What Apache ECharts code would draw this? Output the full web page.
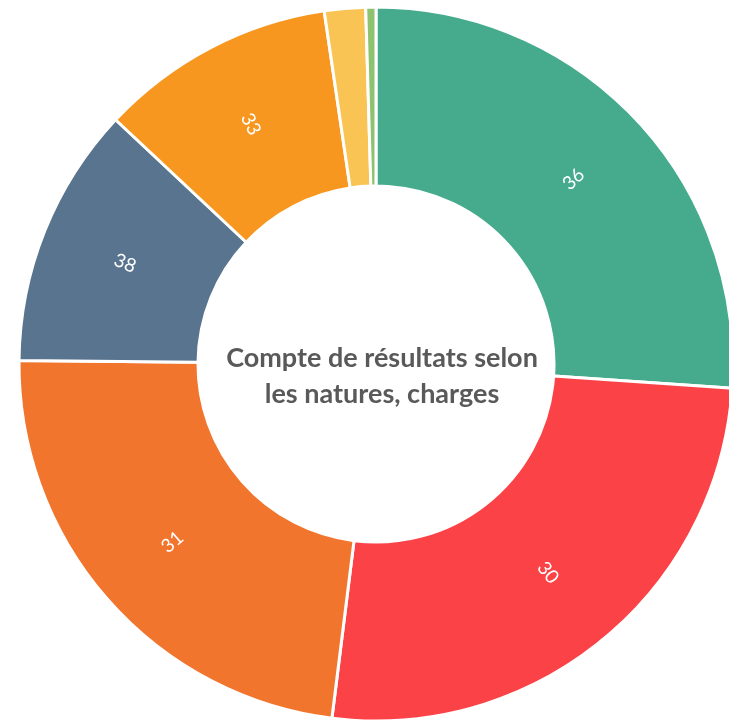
<!DOCTYPE html>
<html><head><meta charset="utf-8">
<script src="https://cdn.jsdelivr.net/npm/echarts@6/dist/echarts.min.js"></script>
<style>html,body{margin:0;padding:0;background:#fff}#c{width:729px;height:720px}</style>
</head><body><div id="c"></div>
<script>
const categories = ["36", "30", "31", "38", "33", "34", "35"];
const values = [26.08, 25.89, 23.19, 11.83, 10.69, 1.86, 0.46];
const colors = ["#45AB8C", "#FB4246", "#F2752E", "#58748F", "#F8971F", "#F9C453", "#8DC26F"];
const centerTitle = "Compte de résultats selon\nles natures, charges";

const chart = echarts.init(document.getElementById('c'));
chart.setOption({
  animation: false,
  color: colors,
  title: {
    text: centerTitle,
    left: 377, top: 371, textAlign: 'center', textVerticalAlign: 'middle',
    textStyle: { fontFamily: 'Lato', fontWeight: 'bold', fontSize: 27, lineHeight: 36, color: '#595959' }
  },
  series: [{
    type: 'pie',
    center: [376, 364],
    radius: [178, 357],
    startAngle: 90,
    clockwise: true,
    minShowLabelAngle: 10,
    avoidLabelOverlap: false,
    itemStyle: { borderColor: '#ffffff', borderWidth: 3 },
    label: {
      show: true, position: 'inside', rotate: 'radial',
      formatter: '{b}', color: '#ffffff', fontFamily: 'Lato', fontSize: 19
    },
    labelLine: { show: false },
    emphasis: { disabled: true },
    data: categories.map((n, i) => ({ name: n, value: values[i] }))
  }]
});
</script></body></html>
